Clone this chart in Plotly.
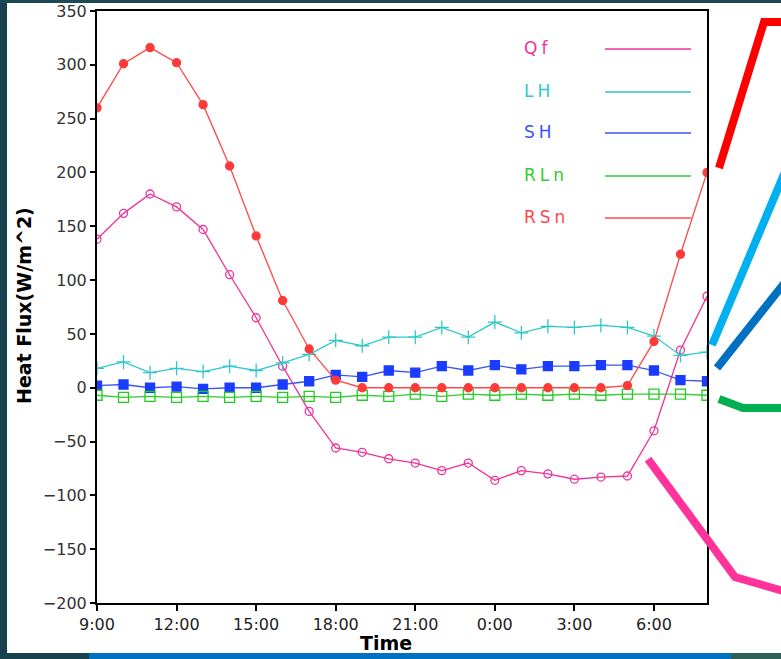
import plotly.graph_objects as go

# ---------------- data ----------------
hours = list(range(24))  # 9:00 ... 8:00 next day (hourly)
tick_pos = [0, 3, 6, 9, 12, 15, 18, 21]
tick_text = ["9:00", "12:00", "15:00", "18:00", "21:00", "0:00", "3:00", "6:00"]
y_ticks = [-200, -150, -100, -50, 0, 50, 100, 150, 200, 250, 300, 350]

Qf = [138, 162, 180, 168, 147, 105, 65, 20, -22, -56, -60, -66, -70, -77, -70, -86,
      -77, -80, -85, -83, -82, -40, 35, 85]
LH = [18, 24, 14, 18, 15, 20, 16, 23, 31, 44, 39, 47, 47, 56, 47, 61,
      51, 57, 56, 58, 56, 48, 30, 33]
SH = [2, 3, 0, 1, -1, 0, 0, 3, 6, 12, 10, 16, 14, 20, 16, 21,
      17, 20, 20, 21, 21, 16, 7, 6]
RLn = [-7, -9, -8, -9, -8, -9, -8, -9, -8, -9, -7, -8, -6, -8, -6, -7,
       -6, -7, -6, -7, -6, -6, -6, -7]
RSn = [260, 301, 316, 302, 263, 206, 141, 81, 36, 7, 0, 0, 0, 0, 0, 0,
       0, 0, 0, 0, 2, 43, 124, 200]

series_names = ["Qf", "LH", "SH", "RLn", "RSn"]
series_vals = [Qf, LH, SH, RLn, RSn]
line_colors = ["#F0329B", "#2EC8CC", "#3A55F0", "#30CC30", "#FF4848"]
marker_colors = ["#F0329B", "#2EC8CC", "#1A3CFF", "#20CC20", "#FF3A3A"]
marker_symbols = ["circle-open", "cross-thin", "square", "square-open", "circle"]
marker_sizes = [8, 10, 9, 10, 8]

# ---------------- layout geometry ----------------
W, H = 781, 659
L, R, T, B = 97, 74, 11, 56
PW, PH = W - L - R, H - T - B


def px(x, y):
    return (x - L) / PW, (H - B - y) / PH


fig = go.Figure()
for name, vals, lc, mc, sym, sz in zip(series_names, series_vals, line_colors,
                                       marker_colors, marker_symbols, marker_sizes):
    fig.add_trace(go.Scatter(
        x=hours, y=vals, mode="lines+markers", name=name,
        line=dict(color=lc, width=1.3),
        marker=dict(symbol=sym, size=sz, color=mc, line=dict(color=mc, width=1.3)),
        showlegend=False,
    ))

shapes = []
annotations = []

# custom legend inside plot
leg_y = [49, 92, 133, 176, 218]
for name, lc, ly in zip(series_names, line_colors, leg_y):
    x0, y0 = px(605, ly)
    x1, _ = px(691, ly)
    shapes.append(dict(type="line", xref="paper", yref="paper", x0=x0, x1=x1, y0=y0, y1=y0,
                       line=dict(color=lc, width=1.5)))
    ax, ay = px(522, ly - 1)
    annotations.append(dict(xref="paper", yref="paper", x=ax, y=ay, xanchor="left", yanchor="middle",
                            text='<span style="letter-spacing:4px">%s</span>' % name, showarrow=False,
                            font=dict(family="DejaVu Sans", size=17, color=lc)))

# decorative thick strokes on the right
deco = [
    ("#FF0000", [(719, 168), (764, 22), (790, 22)]),
    ("#00B0F0", [(712, 345), (790, 160)]),
    ("#0070C0", [(717, 368), (790, 276)]),
    ("#00B050", [(719, 399), (743, 408), (790, 408)]),
    ("#FF3399", [(648, 459), (735, 577), (790, 593)]),
]
for col, pts in deco:
    path = ""
    for i, (xx, yy) in enumerate(pts):
        a, b = px(xx, yy)
        path += ("M" if i == 0 else " L") + " %.5f,%.5f" % (a, b)
    shapes.append(dict(type="path", xref="paper", yref="paper", path=path,
                       line=dict(color=col, width=8), layer="above"))

# dark window borders
def rect(x0, y0, x1, y1, col):
    a0, b0 = px(x0, y0)
    a1, b1 = px(x1, y1)
    shapes.append(dict(type="rect", xref="paper", yref="paper", x0=a0, y0=b0, x1=a1, y1=b1,
                       line=dict(width=0), fillcolor=col, layer="above"))

rect(-5, -5, 7, 665, "#17414F")
rect(-5, -5, 790, 3, "#1B4A55")
rect(-5, 653, 89, 665, "#17414F")
rect(89, 653, 731, 665, "#0070C0")
rect(731, 653, 790, 665, "#2E6058")

# axis titles
tx, ty = px(386, 643)
annotations.append(dict(xref="paper", yref="paper", x=tx, y=ty, text="<b>Time</b>", showarrow=False,
                        xanchor="center", yanchor="middle",
                        font=dict(family="DejaVu Sans", size=19, color="#000")))
hx, hy = px(24, 306)
annotations.append(dict(xref="paper", yref="paper", x=hx, y=hy, text="<b>Heat Flux(W/m^2)</b>",
                        showarrow=False, textangle=-90, xanchor="center", yanchor="middle",
                        font=dict(family="DejaVu Sans", size=19, color="#000")))

fig.update_layout(
    width=W, height=H,
    margin=dict(l=L, r=R, t=T, b=B, pad=0, autoexpand=False),
    paper_bgcolor="white", plot_bgcolor="white",
    shapes=shapes, annotations=annotations,
    xaxis=dict(range=[0, 23], tickmode="array", tickvals=tick_pos, ticktext=tick_text,
               automargin=False,
               showgrid=False, zeroline=False, showline=True, mirror=True, linecolor="black",
               linewidth=2, ticks="outside", ticklen=6, tickwidth=1.5, tickcolor="black",
               tickfont=dict(family="DejaVu Sans", size=16, color="#222")),
    yaxis=dict(range=[-200, 350], tickmode="array", tickvals=y_ticks,
               automargin=False,
               showgrid=False, zeroline=False, showline=True, mirror=True, linecolor="black",
               linewidth=2, ticks="outside", ticklen=5, tickwidth=1.5, tickcolor="black",
               tickfont=dict(family="DejaVu Sans", size=16, color="#333")),
)

fig.write_html("out.html")
